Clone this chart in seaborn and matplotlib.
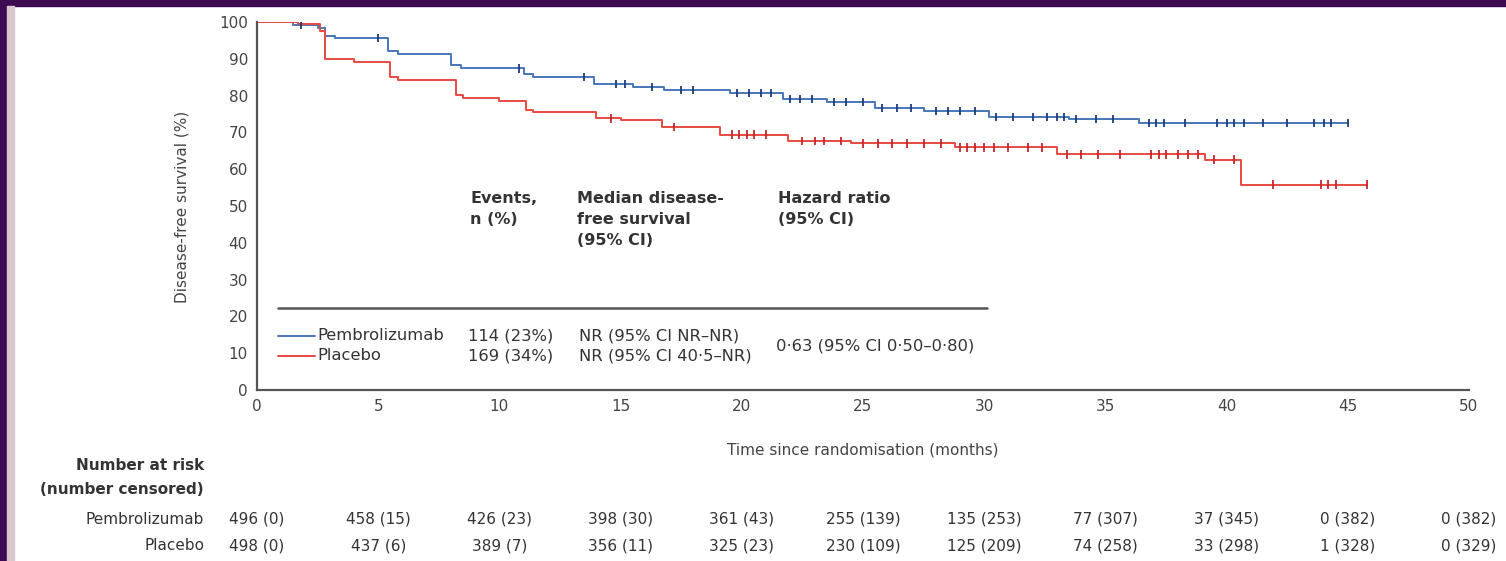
import matplotlib
matplotlib.use("Agg")
import matplotlib.pyplot as plt
import matplotlib.transforms as mtransforms
from matplotlib.patches import Rectangle
import numpy as np
import pandas as pd
import seaborn as sns

# ---- Kaplan-Meier step data (months, % disease-free) ----
pembro_time = [0, 1.5, 2.5, 2.8, 3.2, 5.4, 5.8, 8.0, 8.4, 11.0, 11.4, 13.9, 15.5,
               16.8, 19.5, 21.7, 23.5, 25.5, 27.5, 30.2, 33.5, 36.4, 45.0]
pembro_surv = [100, 99.2, 98.4, 96.2, 95.6, 92.0, 91.2, 88.2, 87.4, 85.8, 85.0, 83.2, 82.4,
               81.5, 80.7, 79.0, 78.3, 76.6, 75.9, 74.2, 73.6, 72.6, 72.6]

placebo_time = [0, 1.7, 2.6, 2.8, 4.0, 5.5, 5.8, 8.2, 8.5, 10.0, 11.1, 11.4, 14.0,
                15.0, 16.7, 19.1, 21.9, 24.5, 28.8, 33.0, 39.1, 40.6, 45.8]
placebo_surv = [100, 99.4, 97.6, 90.0, 89.2, 85.0, 84.2, 80.2, 79.3, 78.6, 76.0, 75.5, 73.8,
                73.3, 71.4, 69.4, 67.6, 67.0, 65.9, 64.0, 62.6, 55.8, 55.8]

# censoring times
pembro_censor = [1.8, 5.0, 10.8, 13.5, 14.8, 15.2, 16.3, 17.5, 18.0, 19.8, 20.3, 20.8,
                 21.2, 22.0, 22.4, 22.9, 23.8, 24.3, 25.0, 25.8, 26.4, 27.0, 28.0, 28.5,
                 29.0, 29.6, 30.5, 31.2, 32.0, 32.6, 33.0, 33.3, 33.8, 34.6, 35.3, 36.8,
                 37.1, 37.4, 38.3, 39.6, 40.0, 40.3, 40.7, 41.5, 42.5, 43.6, 44.0, 44.3,
                 45.0]
placebo_censor = [14.6, 17.2, 19.6, 19.9, 20.2, 20.5, 21.0, 22.5, 23.0, 23.4, 24.1, 25.0,
                  25.6, 26.2, 26.8, 27.5, 28.2, 29.0, 29.3, 29.6, 30.0, 30.4, 31.0, 31.8,
                  32.4, 33.4, 34.0, 34.7, 35.6, 36.9, 37.2, 37.5, 38.0, 38.4, 38.8, 39.5,
                  40.3, 41.9, 43.9, 44.2, 44.5, 45.8]

arms = ["Pembrolizumab", "Placebo"]
events = ["114 (23%)", "169 (34%)"]
medians = ["NR (95% CI NR\u2013NR)", "NR (95% CI 40\u00b75\u2013NR)"]
hazard = "0\u00b763 (95% CI 0\u00b750\u20130\u00b780)"

risk_times = [0, 5, 10, 15, 20, 25, 30, 35, 40, 45, 50]
pembro_risk = ["496 (0)", "458 (15)", "426 (23)", "398 (30)", "361 (43)", "255 (139)",
               "135 (253)", "77 (307)", "37 (345)", "0 (382)", "0 (382)"]
placebo_risk = ["498 (0)", "437 (6)", "389 (7)", "356 (11)", "325 (23)", "230 (109)",
                "125 (209)", "74 (258)", "33 (298)", "1 (328)", "0 (329)"]

x_ticks = [0, 5, 10, 15, 20, 25, 30, 35, 40, 45, 50]
y_ticks = [0, 10, 20, 30, 40, 50, 60, 70, 80, 90, 100]

BLUE = "#4577b8"
BLUE_DARK = "#1d3c78"
RED = "#e84a40"
RED_DARK = "#c4262b"
GREY = "#555555"
TXT = "#333333"
FS = 11

sns.set_theme(style="white")
plt.rcParams["font.family"] = ["DejaVu Sans"]

fig = plt.figure(figsize=(15.06, 5.61), dpi=100)
fig.patch.set_facecolor("white")

# frame bands
fig.patches.append(Rectangle((0, 1 - 6 / 561), 1, 6 / 561, transform=fig.transFigure,
                             color="#3e0b52", zorder=0))
fig.patches.append(Rectangle((0, 0), 7 / 1506, 1, transform=fig.transFigure,
                             color="#3e0b52", zorder=0))
fig.patches.append(Rectangle((7 / 1506, 0), 7 / 1506, 1 - 6 / 561, transform=fig.transFigure,
                             color="#dac6ce", zorder=0))

ax = fig.add_axes([257 / 1506, (561 - 390) / 561, (1469 - 257) / 1506, (390 - 22) / 561])
ax.set_facecolor("none")

curves = pd.concat([
    pd.DataFrame({"time": pembro_time, "surv": pembro_surv, "arm": arms[0]}),
    pd.DataFrame({"time": placebo_time, "surv": placebo_surv, "arm": arms[1]}),
])
sns.lineplot(data=curves, x="time", y="surv", hue="arm", palette=[BLUE, RED],
             estimator=None, sort=False, drawstyle="steps-post", linewidth=1.4,
             legend=False, ax=ax)


def step_value(times, surv, t):
    idx = np.searchsorted(times, t, side="right") - 1
    return surv[max(idx, 0)]


censor = pd.concat([
    pd.DataFrame({"time": pembro_censor,
                  "surv": [step_value(pembro_time, pembro_surv, t) for t in pembro_censor],
                  "arm": arms[0]}),
    pd.DataFrame({"time": placebo_censor,
                  "surv": [step_value(placebo_time, placebo_surv, t) for t in placebo_censor],
                  "arm": arms[1]}),
])
sns.scatterplot(data=censor, x="time", y="surv", hue="arm", palette=[BLUE_DARK, RED_DARK],
                marker="|", s=36, linewidth=1.3, legend=False, ax=ax, zorder=3)

ax.set_xlim(0, 50)
ax.set_ylim(0, 100)
ax.set_xticks(x_ticks)
ax.set_yticks(y_ticks)
ax.tick_params(axis="both", direction="inout", length=7, width=1.2, color=GREY,
               labelsize=FS, labelcolor="#444444", pad=3)
for side in ("top", "right"):
    ax.spines[side].set_visible(False)
for side in ("left", "bottom"):
    ax.spines[side].set_color(GREY)
    ax.spines[side].set_linewidth(1.6)
ax.set_xlabel("")
ax.set_ylabel("")

fig.text(182 / 1506, (561 - 207) / 561, "Disease-free survival (%)", rotation=90,
         ha="center", va="center", fontsize=FS, color="#444444")
fig.text((257 + 1469) / 2 / 1506, (561 - 450) / 561, "Time since randomisation (months)",
         ha="center", va="center", fontsize=FS, color="#444444")

# in-plot summary table
hdr_kw = dict(fontsize=11.5, color=TXT, fontweight="bold", va="top", ha="left",
              linespacing=1.5)
ax.text(8.8, 54.0, "Events,\nn (%)", **hdr_kw)
ax.text(13.2, 54.0, "Median disease-\nfree survival\n(95% CI)", **hdr_kw)
ax.text(21.5, 54.0, "Hazard ratio\n(95% CI)", **hdr_kw)
ax.plot([0.87, 30.1], [22.3, 22.3], color="#555555", linewidth=1.8)

ROW_FS = 11.8
row_y = [14.7, 9.3]
for y, color, name, ev, med in zip(row_y, [BLUE, RED], arms, events, medians):
    ax.plot([0.87, 2.4], [y, y], color=color, linewidth=1.4)
    ax.text(2.5, y, name, fontsize=ROW_FS, color=TXT, va="center", ha="left")
    ax.text(8.7, y, ev, fontsize=ROW_FS, color=TXT, va="center", ha="left")
    ax.text(13.3, y, med, fontsize=ROW_FS, color=TXT, va="center", ha="left")
ax.text(21.4, sum(row_y) / 2, hazard, fontsize=ROW_FS, color=TXT, va="center", ha="left")

# number-at-risk table
fig.text(204 / 1506, (561 - 466) / 561, "Number at risk", fontsize=FS, fontweight="bold",
         color=TXT, ha="right", va="center")
fig.text(204 / 1506, (561 - 490) / 561, "(number censored)", fontsize=FS,
         fontweight="bold", color=TXT, ha="right", va="center")
blend = mtransforms.blended_transform_factory(ax.transData, fig.transFigure)
for ypix, name, row in [(519, arms[0], pembro_risk), (546, arms[1], placebo_risk)]:
    yf = (561 - ypix) / 561
    fig.text(204 / 1506, yf, name, fontsize=FS, color=TXT, ha="right", va="center")
    for t, lab in zip(risk_times, row):
        ax.text(t, yf, lab, transform=blend, fontsize=FS, color=TXT,
                ha="center", va="center", clip_on=False)

fig.savefig("out.png", dpi=100, facecolor="white")
